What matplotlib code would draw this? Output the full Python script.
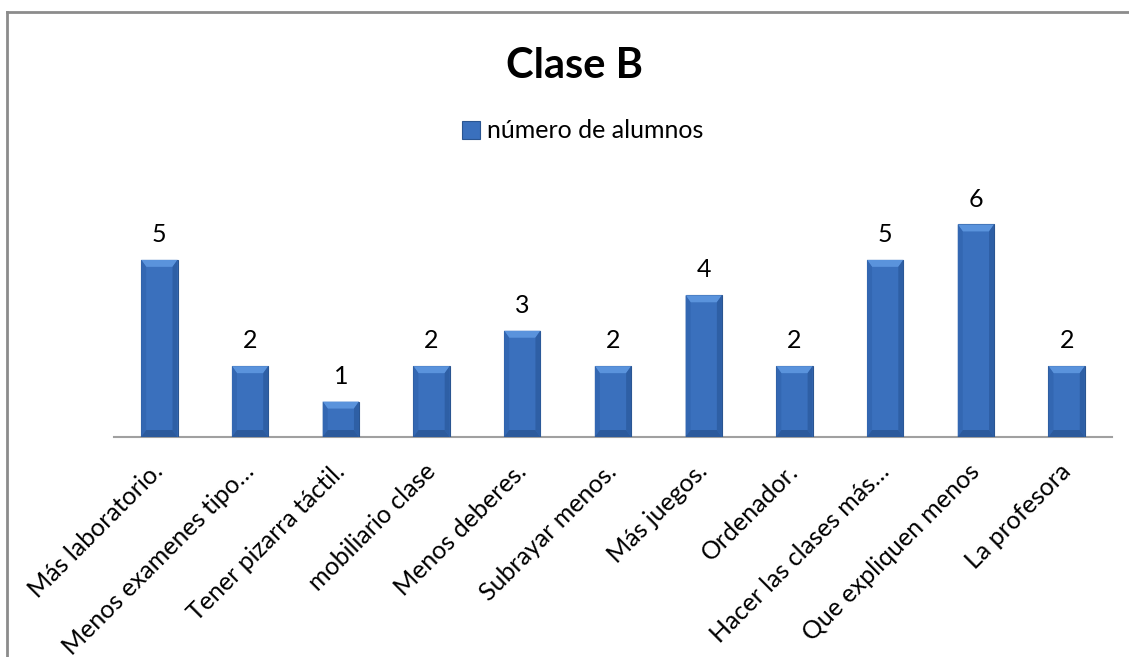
import matplotlib
matplotlib.use("Agg")
import matplotlib.pyplot as plt
from matplotlib.lines import Line2D
from matplotlib.patches import Polygon
import numpy as np

categorias = ["Más laboratorio.", "Menos examenes tipo…", "Tener pizarra táctil.",
              "mobiliario clase", "Menos deberes.", "Subrayar menos.", "Más juegos.",
              "Ordenador.", "Hacer las clases más…", "Que expliquen menos", "La profesora"]
alumnos = [5, 2, 1, 2, 3, 2, 4, 2, 5, 6, 2]
serie = "número de alumnos"
titulo = "Clase B"

plt.rcParams["font.family"] = ["Lato", "DejaVu Sans"]

fig = plt.figure(figsize=(11.29, 6.57), dpi=100)
ax = fig.add_axes([114 / 1129, (657 - 437) / 657, 998 / 1129, 248 / 657])

x = np.arange(len(categorias))
bars = ax.bar(x, alumnos, width=0.4, color="#3a70bd", edgecolor="#2a5591",
              linewidth=0.8, label=serie, zorder=3)

ax.set_xlim(-0.5, len(categorias) - 0.5)
ax.set_ylim(0, 7)

# bevel look: lighter top, darker sides and bottom
px_x = 1 / 90.7
px_y = 7 / 248
bx, by = 5 * px_x, 7 * px_y
for r in bars:
    x0, w, h = r.get_x(), r.get_width(), r.get_height()
    x1 = x0 + w
    ax.add_patch(Polygon([(x0, h), (x1, h), (x1 - bx, h - by), (x0 + bx, h - by)],
                         closed=True, color="#5a93dc", lw=0, zorder=4))
    ax.add_patch(Polygon([(x0, h), (x0 + bx, h - by), (x0 + bx, by), (x0, 0)],
                         closed=True, color="#3367b2", lw=0, zorder=4))
    ax.add_patch(Polygon([(x1, h), (x1 - bx, h - by), (x1 - bx, by), (x1, 0)],
                         closed=True, color="#2e5fa5", lw=0, zorder=4))
    ax.add_patch(Polygon([(x0, 0), (x1, 0), (x1 - bx, by), (x0 + bx, by)],
                         closed=True, color="#2c5a9c", lw=0, zorder=4))

for xi, v in zip(x, alumnos):
    ax.annotate(str(v), (xi, v), xytext=(0, 10), textcoords="offset points",
                ha="center", va="bottom", fontsize=18)

ax.set_yticks([])
ax.set_xticks(x)
ax.set_xticklabels(categorias, rotation=45, ha="right", va="center",
                   rotation_mode="anchor", fontsize=18)
ax.tick_params(axis="x", length=0, pad=22)
for s in ["top", "right", "left"]:
    ax.spines[s].set_visible(False)
ax.spines["bottom"].set_color("#a0a0a0")
ax.spines["bottom"].set_linewidth(1.5)

fig.text(574 / 1129, 1 - 66 / 657, titulo, ha="center", va="center",
         fontsize=30, fontweight="bold")
fig.legend(handles=[bars], labels=[serie], loc="center",
           bbox_to_anchor=(583 / 1129, 1 - 131 / 657), frameon=False,
           fontsize=18, handlelength=0.7, handleheight=0.7, handletextpad=0.3)

# chart border
fig.add_artist(Line2D([7 / 1129, 1], [1 - 12 / 657, 1 - 12 / 657],
                      transform=fig.transFigure, color="#8c8c8c", lw=2))
fig.add_artist(Line2D([7 / 1129, 7 / 1129], [0, 1 - 12 / 657],
                      transform=fig.transFigure, color="#8c8c8c", lw=2))

fig.savefig("out.png", dpi=100)
